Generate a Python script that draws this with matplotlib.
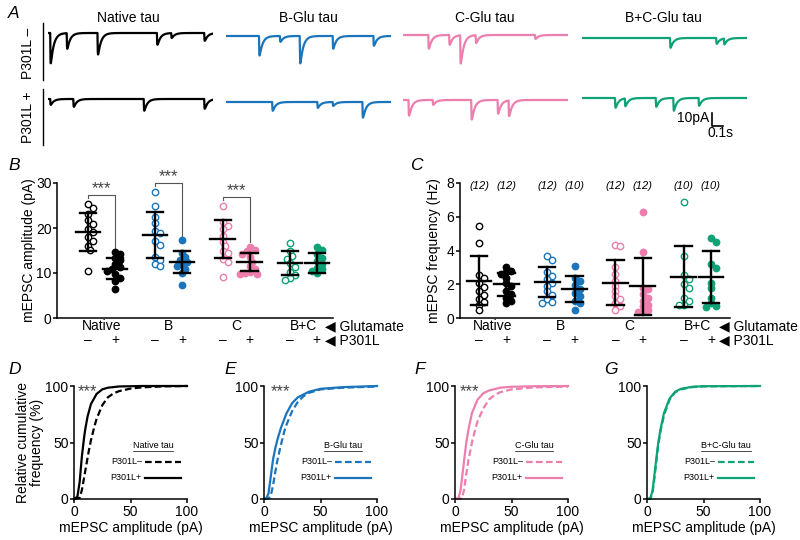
import matplotlib
matplotlib.use("Agg")
import matplotlib.pyplot as plt
import numpy as np
from matplotlib.lines import Line2D
from matplotlib.transforms import blended_transform_factory

plt.rcParams.update({
	"font.family": ["Liberation Sans", "DejaVu Sans"],
	"font.size": 10,
	"axes.linewidth": 1.1,
	"xtick.major.width": 1.1,
	"ytick.major.width": 1.1,
	"xtick.major.size": 3,
	"ytick.major.size": 3,
	"xtick.major.pad": 1.5,
	"ytick.major.pad": 1,
})

W, H = 800, 540
fig = plt.figure(figsize=(8, 5.4), dpi=100)

# ---------------- data ----------------
conditions = ["Native tau", "B-Glu tau", "C-Glu tau", "B+C-Glu tau"]
short_names = ["Native", "B", "C", "B+C"]
colors = ["#000000", "#1b75bc", "#ec7fad", "#0fa276"]

# panel A: miniature events (time s, amplitude pA) in each example trace
events_minus = [
	[(0.02, 31), (0.17, 16), (0.45, 22), (0.99, 12), (1.12, 5), (1.42, 8)],
	[(0.30, 20), (0.49, 6), (0.67, 28), (0.97, 13), (1.34, 10)],
	[(0.23, 14), (0.42, 10), (0.52, 29), (0.66, 8), (1.20, 4)],
	[(0.80, 10), (1.22, 6), (1.29, 6)],
]
events_plus = [
	[(0.02, 6), (0.23, 8), (0.87, 12), (1.42, 10)],
	[(0.42, 9), (0.83, 6), (0.97, 4), (1.24, 16)],
	[(0.05, 16), (0.27, 5), (0.62, 20), (0.86, 14), (0.96, 16)],
	[(0.30, 10), (0.39, 8), (0.67, 9), (0.83, 13), (1.06, 8)],
]

# panel B: mEPSC amplitude (pA)
amp_minus = [
	[25.4, 24.5, 23.2, 21.7, 20.9, 19.8, 19.1, 18.0, 17.2, 16.1, 15.1, 10.5],
	[28.0, 24.8, 22.4, 21.1, 19.3, 18.8, 17.1, 16.2, 13.5, 12.8, 12.0, 11.5],
	[24.9, 21.4, 20.5, 19.8, 18.3, 17.0, 16.0, 15.0, 14.5, 13.2, 12.5, 9.2],
	[16.6, 14.8, 13.8, 13.2, 12.2, 11.4, 10.3, 9.5, 8.8, 8.4],
]
amp_plus = [
	[14.6, 14.2, 13.3, 12.8, 12.0, 11.3, 10.9, 10.5, 9.8, 9.0, 8.3, 6.4],
	[17.4, 14.5, 13.5, 13.0, 12.5, 12.0, 11.5, 11.0, 10.0, 7.4],
	[15.8, 15.2, 14.8, 14.3, 13.5, 12.5, 11.5, 10.8, 10.3, 10.0, 9.8, 9.8],
	[15.8, 15.2, 14.2, 13.3, 12.7, 12.0, 11.2, 10.8, 10.4, 10.0],
]
amp_mean_minus = [19.1, 18.5, 17.6, 12.2]
amp_sd_minus = [4.3, 5.15, 4.2, 2.75]
amp_mean_plus = [11.0, 12.4, 12.4, 12.2]
amp_sd_plus = [2.3, 2.5, 2.0, 2.2]

# panel C: mEPSC frequency (Hz)
freq_minus = [
	[5.45, 4.45, 2.55, 2.4, 2.1, 1.85, 1.6, 1.35, 1.1, 0.95, 0.8, 0.45],
	[3.7, 3.45, 2.75, 2.5, 2.3, 2.1, 1.9, 1.6, 1.35, 1.1, 0.95, 0.9],
	[4.3, 4.25, 3.0, 2.6, 2.2, 1.9, 1.6, 1.3, 1.1, 0.9, 0.7, 0.5],
	[6.85, 3.7, 2.55, 2.3, 2.0, 1.75, 1.2, 1.0, 0.8, 0.75],
]
freq_plus = [
	[3.0, 2.8, 2.7, 2.6, 2.4, 2.1, 1.9, 1.6, 1.4, 1.2, 1.0, 0.9],
	[3.1, 2.35, 2.2, 1.95, 1.7, 1.5, 1.3, 1.0, 0.9, 0.5],
	[6.3, 3.9, 1.8, 1.7, 1.4, 1.2, 1.0, 0.8, 0.7, 0.5, 0.4, 0.35],
	[4.75, 4.5, 3.2, 2.95, 2.1, 1.8, 1.2, 0.9, 0.7, 0.65],
]
freq_mean_minus = [2.2, 2.15, 2.1, 2.45]
freq_sd_minus = [1.45, 0.9, 1.33, 1.8]
freq_mean_plus = [2.0, 1.72, 1.87, 2.44]
freq_sd_plus = [0.68, 0.78, 1.68, 1.55]

# panels D-G: cumulative amplitude distributions (%)
cdf_minus_x = [
	[0, 5, 7, 10, 13, 15, 18, 20, 25, 30, 35, 40, 50, 60, 80, 100],
	[0, 4, 6, 8, 10, 12, 15, 18, 20, 25, 30, 35, 40, 50, 70, 100],
	[0, 6, 8, 10, 12, 15, 18, 20, 25, 30, 35, 40, 50, 70, 100],
	[0, 3, 5, 7, 9, 10, 12, 15, 20, 25, 30, 40, 50, 100],
]
cdf_minus_y = [
	[0, 1, 8, 25, 42, 52, 64, 71, 83, 90, 93.5, 95.5, 97.7, 98.8, 99.7, 100],
	[0, 0.5, 3, 12, 24, 35, 48, 60, 66, 78, 86, 91, 94, 97, 98.5, 99.5],
	[0, 0.5, 8, 22, 35, 50, 62, 69, 80, 88, 92, 94.5, 97, 98.8, 99.5],
	[0, 0.3, 6, 22, 40, 48, 60, 74, 88, 94.5, 97, 99, 99.7, 100],
]
cdf_plus_x = [
	[0, 3, 5, 7, 9, 10, 12, 15, 20, 25, 30, 40, 60, 100],
	[0, 2, 4, 6, 8, 10, 12, 15, 20, 25, 30, 40, 50, 70, 100],
	[0, 3, 5, 7, 9, 10, 12, 15, 20, 25, 30, 40, 50, 70, 100],
	[0, 3, 5, 7, 9, 10, 12, 15, 20, 25, 30, 40, 50, 100],
]
cdf_plus_y = [
	[0, 2, 15, 38, 55, 62, 73, 84, 93, 97, 98.5, 99.6, 100, 100],
	[0, 0.5, 5, 20, 35, 45, 53, 63, 76, 85, 90, 95, 97.5, 99, 100],
	[0, 0.5, 8, 25, 42, 50, 62, 76, 88, 93.5, 96, 98.5, 99.3, 99.8, 100],
	[0, 0.5, 8, 25, 42, 50, 62, 76, 89, 95, 97.5, 99.3, 99.8, 100],
]
cdf_signif = ["***", "***", "***", ""]


# ---------------- helpers ----------------
def px_axes(x0, y0, x1, y1):
	return fig.add_axes([x0 / W, 1 - y1 / H, (x1 - x0) / W, (y1 - y0) / H])


def fig_text(x, y, s, **kw):
	return fig.text(x / W, 1 - y / H, s, **kw)


def fig_line(xs, ys, **kw):
	fig.add_artist(Line2D([x / W for x in xs], [1 - y / H for y in ys], transform=fig.transFigure, **kw))


def swarm(vals, px_x, px_y, d=5.0):
	# simple beeswarm, offsets in data units
	vals = np.asarray(vals, float)
	offs = np.zeros(len(vals))
	placed = []
	for i in np.argsort(vals)[::-1]:
		y = vals[i] * px_y
		for k in range(40):
			c = ((k + 1) // 2) * d * 0.5 * (1 if k % 2 else -1)
			if all((c - px) ** 2 + (y - py) ** 2 >= d * d for px, py in placed):
				break
		placed.append((c, y))
		offs[i] = c / px_x
	return offs


def mean_sd(ax, x, m, s):
	kw = dict(color="black", lw=1.7, zorder=5)
	ax.plot([x - 0.45, x + 0.45], [m, m], **kw)
	ax.plot([x, x], [m - s, m + s], **kw)
	ax.plot([x - 0.3, x + 0.3], [m + s, m + s], **kw)
	ax.plot([x - 0.3, x + 0.3], [m - s, m - s], **kw)


def letter(x, y, s):
	fig_text(x, y, s, fontsize=12.5, style="italic", ha="left", va="center")


# ---------------- panel A ----------------
letter(8, 13, "A")
col_x = [48, 226, 403, 582]
base_minus = [33, 36, 35, 38]
base_plus = [99, 102, 100, 98]
title_x = [128, 308, 485, 663]
px_per_s, px_per_pA = 110, 1.27
t = np.linspace(0, 1.5, 3000)


def trace(events):
	y = np.zeros_like(t)
	for t0, a in events:
		dt = t - t0
		m = dt >= 0
		y[m] -= a * (1 - np.exp(-dt[m] / 0.002)) * np.exp(-dt[m] / 0.028)
	return y


trace_axes = []
for c in range(4):
	fig_text(title_x[c], 18, conditions[c], ha="center", va="center")
	for events, base in ((events_minus, base_minus), (events_plus, base_plus)):
		ax = px_axes(col_x[c], base[c] - 4, col_x[c] + 1.5 * px_per_s, base[c] + 40)
		ax.plot(t, trace(events[c]), color=colors[c], lw=1.6)
		ax.set_xlim(0, 1.5)
		ax.set_ylim(-40 / px_per_pA, 4 / px_per_pA)
		ax.axis("off")
		trace_axes.append(ax)

fig_text(28, 53, "P301L \u2013", rotation=90, ha="center", va="center")
fig_text(28, 117, "P301L +", rotation=90, ha="center", va="center")
fig_line([43, 43], [23, 80], color="black", lw=1.0)
fig_line([43, 43], [89, 145], color="black", lw=1.0)

# scale bar on last trace
ax = trace_axes[-1]
ax.plot([1.18, 1.18, 1.28], [-12, -22, -22], color="black", lw=1.2, clip_on=False)
ax.text(1.155, -16, "10pA", ha="right", va="center")
ax.text(1.255, -27.5, "0.1s", ha="center", va="center")


# ---------------- panels B and C ----------------
pos_minus = [g * 2.5 for g in range(4)]
pos_plus = [g * 2.5 + 1 for g in range(4)]


def scatter_panel(ax, minus, plus, m_minus, s_minus, m_plus, s_plus, px_x, px_y):
	for g in range(4):
		for vals, x, filled in ((minus[g], pos_minus[g], False), (plus[g], pos_plus[g], True)):
			xs = x + swarm(vals, px_x, px_y)
			ax.plot(xs, vals, "o", ms=4.6, mew=1.0, mec=colors[g],
				mfc=colors[g] if filled else "white", ls="none", zorder=3, clip_on=False)
		mean_sd(ax, pos_minus[g], m_minus[g], s_minus[g])
		mean_sd(ax, pos_plus[g], m_plus[g], s_plus[g])
	ax.spines["top"].set_visible(False)
	ax.spines["right"].set_visible(False)
	ax.set_xticks([])
	tr = blended_transform_factory(ax.transData, ax.transAxes)
	for g in range(4):
		ax.text(pos_minus[g] + 0.5, -0.06, short_names[g], transform=tr, ha="center", va="center")
		ax.text(pos_minus[g], -0.165, "\u2013", transform=tr, ha="center", va="center")
		ax.text(pos_plus[g], -0.165, "+", transform=tr, ha="center", va="center")
	ax.text(8.8, -0.06, "\u25c0 Glutamate", transform=tr, ha="left", va="center")
	ax.text(8.8, -0.165, "\u25c0 P301L", transform=tr, ha="left", va="center")


# B
letter(8, 166, "B")
axB = px_axes(57, 183, 333, 318)
axB.set_xlim(-1.15, 9.1)
axB.set_ylim(0, 30)
axB.set_yticks([0, 10, 20, 30])
axB.set_ylabel("mEPSC amplitude (pA)", labelpad=0)
scatter_panel(axB, amp_minus, amp_plus, amp_mean_minus, amp_sd_minus,
	amp_mean_plus, amp_sd_plus, 27.0, 4.5)
brackets = [(0, 27.3, 15.2), (1, 30.0, 18.2), (2, 26.9, 16.8)]
for g, top, end in brackets:
	x0, x1 = pos_minus[g], pos_plus[g]
	axB.plot([x0, x0, x1, x1], [top - 0.6, top, top, end], color="#555555", lw=0.8, clip_on=False)
	axB.text((x0 + x1) / 2, top - 0.3, "***", ha="center", va="bottom", fontsize=12, color="#444444")

# C
letter(410, 166, "C")
axC = px_axes(460, 183, 730, 318)
axC.set_xlim(-0.7, 9.2)
axC.set_ylim(0, 8)
axC.set_yticks([0, 2, 4, 6, 8])
axC.set_ylabel("mEPSC frequency (Hz)", labelpad=4)
scatter_panel(axC, freq_minus, freq_plus, freq_mean_minus, freq_sd_minus,
	freq_mean_plus, freq_sd_plus, 27.2, 16.9)
for g in range(4):
	axC.text(pos_minus[g], 7.85, "(%d)" % len(freq_minus[g]), ha="center", va="center",
		fontsize=8, style="italic")
	axC.text(pos_plus[g], 7.85, "(%d)" % len(freq_plus[g]), ha="center", va="center",
		fontsize=8, style="italic")


# ---------------- panels D-G ----------------
cdf_left = [74, 264, 455, 647]
cdf_letters = [("D", 8), ("E", 224), ("F", 414), ("G", 604)]
sig_x = [12, 15, 13, 12]
renderer = fig.canvas.get_renderer()
for c in range(4):
	letter(cdf_letters[c][1], 370, cdf_letters[c][0])
	ax = px_axes(cdf_left[c], 386, cdf_left[c] + 113, 499)
	ax.plot(cdf_minus_x[c], cdf_minus_y[c], color=colors[c], lw=1.6, ls=(0, (3, 1.5)), clip_on=False)
	ax.plot(cdf_plus_x[c], cdf_plus_y[c], color=colors[c], lw=1.6, clip_on=False)
	ax.set_xlim(0, 100)
	ax.set_ylim(0, 100)
	ax.set_xticks([0, 50, 100])
	ax.set_yticks([0, 50, 100])
	ax.spines["top"].set_visible(False)
	ax.spines["right"].set_visible(False)
	ax.set_xlabel("mEPSC amplitude (pA)", labelpad=1)
	if c == 0:
		ax.set_ylabel("Relative cumulative\nfrequency (%)", labelpad=1, linespacing=1.0)
	if cdf_signif[c]:
		ax.text(sig_x[c], 95, cdf_signif[c], ha="center", va="center", fontsize=12, color="#444444")
	# legend block
	tt = ax.text(70, 47, conditions[c], ha="center", va="center", fontsize=6.5)
	bb = tt.get_window_extent(renderer).transformed(ax.transData.inverted())
	ax.plot([bb.x0, bb.x1], [bb.y0 - 0.5, bb.y0 - 0.5], color="black", lw=0.5)
	ax.text(60, 33, "P301L\u2013", ha="right", va="center", fontsize=6.5)
	ax.text(60, 19, "P301L+", ha="right", va="center", fontsize=6.5)
	ax.plot([63, 95], [33, 33], color=colors[c], lw=1.6, ls=(0, (3, 1.5)))
	ax.plot([63, 95], [19, 19], color=colors[c], lw=1.6)

plt.savefig("out.png", dpi=100)
